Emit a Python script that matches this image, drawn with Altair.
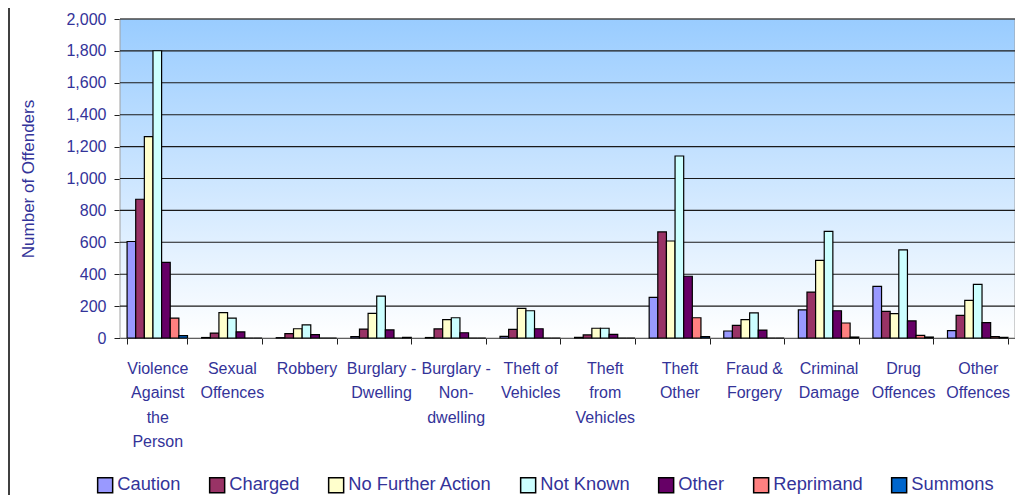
import altair as alt
import pandas as pd

categories = [
    "Violence|Against|the|Person", "Sexual|Offences", "Robbery", "Burglary -|Dwelling",
    "Burglary -|Non-|dwelling", "Theft of|Vehicles", "Theft|from|Vehicles", "Theft|Other",
    "Fraud &|Forgery", "Criminal|Damage", "Drug|Offences", "Other|Offences",
]
series = ["Caution", "Charged", "No Further Action", "Not Known", "Other", "Reprimand", "Summons"]
colors = ["#9999FF", "#993366", "#FFFFCC", "#CCFFFF", "#660066", "#FF8080", "#0066CC"]

caution   = [605, 3, 2, 9, 3, 10, 4, 255, 44, 176, 324, 46]
charged   = [870, 31, 27, 56, 57, 54, 19, 665, 79, 288, 167, 142]
nfa       = [1262, 159, 58, 155, 115, 186, 61, 608, 115, 487, 153, 236]
not_known = [1801, 125, 82, 263, 127, 171, 61, 1141, 157, 669, 552, 336]
other     = [474, 38, 21, 51, 33, 58, 23, 387, 50, 171, 107, 96]
reprimand = [125, 0, 0, 0, 0, 0, 0, 127, 0, 94, 17, 8]
summons   = [15, 0, 0, 4, 0, 0, 0, 8, 0, 6, 6, 4]

y_ticks = [0, 200, 400, 600, 800, 1000, 1200, 1400, 1600, 1800, 2000]
grid_values = y_ticks[1:]

values = [caution, charged, nfa, not_known, other, reprimand, summons]
rows = []
for s, vals in zip(series, values):
    for c, v in zip(categories, vals):
        rows.append({"cat": c, "series": s, "value": v})
df = pd.DataFrame(rows)

W, H = 895, 319
TXT = "#333399"
FONT = "Liberation Sans"

y_scale = alt.Scale(domain=[0, 2000])
y_axis = alt.Axis(values=y_ticks, format=",d", grid=False,
                  labelFont=FONT, labelFontSize=16, labelColor=TXT,
                  labelPadding=8, tickSize=6, tickColor="#202020",
                  domainColor="#404040",
                  titleFont=FONT, titleFontSize=17, titleColor=TXT,
                  titleFontWeight="normal", titlePadding=28)

bg = alt.Chart(pd.DataFrame({"a": [0]})).mark_rect(
    color=alt.Gradient(
        gradient="linear", x1=0, x2=0, y1=0, y2=1,
        stops=[alt.GradientStop(color="#99CCFF", offset=0),
               alt.GradientStop(color="#FFFFFF", offset=1)],
    ),
    stroke="#A0A0A0", strokeWidth=1,
).encode(x=alt.value(0), x2=alt.value(W), y=alt.value(0), y2=alt.value(H))

frame = alt.Chart(pd.DataFrame({"a": [0]})).mark_rule(color="black", strokeWidth=1.5).encode(
    x=alt.value(-111), y=alt.value(-19), y2=alt.value(H + 160)
)

grid = alt.Chart(pd.DataFrame({"value": grid_values})).mark_rule(color="#1a1a1a", strokeWidth=1.1).encode(
    y=alt.Y("value:Q", scale=y_scale, axis=y_axis, title="Number of Offenders")
)

bars = alt.Chart(df).mark_bar(stroke="black", strokeWidth=1.2).encode(
    x=alt.X("cat:N", sort=categories, title=None,
            scale=alt.Scale(paddingInner=0.19, paddingOuter=0.095),
            axis=alt.Axis(labelAngle=0, labelExpr="split(datum.label, '|')",
                          labelFont=FONT, labelFontSize=16, labelColor=TXT,
                          labelLineHeight=24.5, labelPadding=16, labelBaseline="top",
                          tickBand="extent", tickSize=6, tickColor="#202020",
                          domainColor="#202020", labelLimit=0)),
    xOffset=alt.XOffset("series:N", sort=series, scale=alt.Scale(paddingInner=0, paddingOuter=0)),
    y=alt.Y("value:Q", scale=y_scale, axis=y_axis, title="Number of Offenders"),
    color=alt.Color("series:N", sort=series, title=None,
                    scale=alt.Scale(domain=series, range=colors),
                    legend=alt.Legend(orient="none", legendX=-24, legendY=457,
                                      direction="horizontal", symbolType="square",
                                      symbolSize=225, symbolStrokeColor="black",
                                      symbolStrokeWidth=1.5, labelFont=FONT,
                                      labelFontSize=18.3, labelColor=TXT,
                                      labelOffset=3, columnPadding=25, labelLimit=0)),
)

chart = alt.layer(bg, frame, grid, bars).properties(
    width=W, height=H,
    autosize=alt.AutoSizeParams(type="none"),
    padding={"left": 112, "top": 11, "right": 0, "bottom": 157},
).configure_view(stroke=None)

chart.save("out.html", embed_options={"renderer": "svg", "actions": False})
